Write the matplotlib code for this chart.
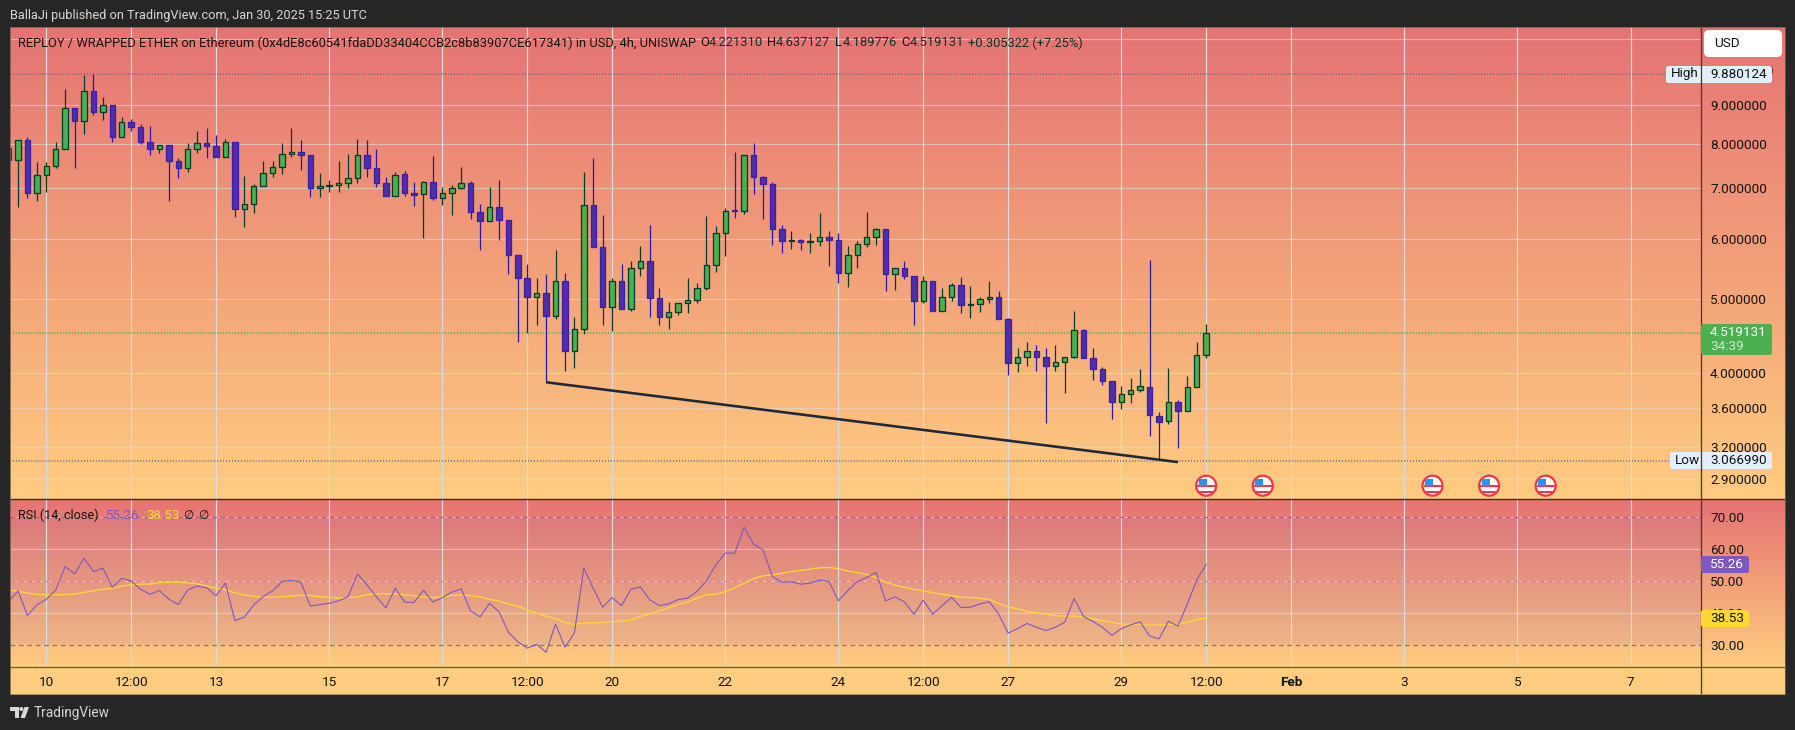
import numpy as np
import matplotlib
matplotlib.use("Agg")
import matplotlib.pyplot as plt
from matplotlib.patches import Rectangle, FancyBboxPatch, Circle, Polygon
from matplotlib.ticker import FixedLocator, FixedFormatter, NullLocator

plt.rcParams["font.family"] = "Roboto"

# ---- data (4h candles, index 0 = Jan 10 00:00) ----
first_index = -4
opens = [7.91,7.63,8.11,6.89,7.29,7.49,7.87,8.91,8.59,9.38,8.81,8.99,8.16,8.54,8.43,8.06,7.87,7.98,7.61,7.43,
 7.89,8.03,7.96,7.70,8.06,6.58,6.68,7.04,7.32,7.47,7.76,7.80,7.75,7.00,7.04,7.06,7.12,7.21,7.75,7.45,
 7.12,6.83,7.30,6.89,6.87,7.14,6.80,6.89,7.01,7.10,6.52,6.34,6.62,6.36,5.71,5.34,5.03,5.10,4.76,5.28,
 4.27,4.57,6.66,5.85,4.89,5.28,4.85,5.50,5.62,5.02,4.74,4.81,4.94,4.99,5.17,5.54,6.12,6.55,6.54,7.75,
 7.25,7.09,6.19,5.97,5.99,5.94,5.96,6.04,5.99,5.42,5.71,5.92,6.03,6.19,5.39,5.49,5.36,4.97,5.28,4.82,
 5.04,5.22,4.92,4.93,5.00,5.03,4.71,4.12,4.20,4.28,4.20,4.08,4.14,4.20,4.56,4.18,4.05,3.90,3.66,3.75,
 3.80,3.84,3.51,3.46,3.66,3.57,3.83,4.2213]
highs = [7.91,8.11,8.18,7.57,7.57,8.06,9.44,8.91,9.85,9.88,9.21,8.99,8.67,8.62,8.49,8.46,7.98,7.98,7.67,8.03,
 8.31,8.41,8.21,8.13,8.06,7.27,7.08,7.61,7.61,8.03,8.41,8.11,7.75,7.32,7.18,7.59,7.77,8.13,8.11,7.89,
 7.25,7.36,7.38,7.14,7.16,7.72,7.03,7.06,7.47,7.16,6.68,7.03,7.18,6.36,5.71,5.57,5.34,5.39,5.81,5.42,
 4.74,7.34,7.66,6.46,5.34,5.57,5.62,5.88,6.27,5.17,4.96,4.94,5.33,5.25,6.44,6.25,6.60,7.82,7.75,8.03,
 7.27,7.14,6.27,6.14,6.01,6.12,6.50,6.15,6.12,5.88,5.96,6.52,6.21,6.19,5.50,5.62,5.37,5.37,5.28,5.18,
 5.25,5.35,5.20,5.03,5.29,5.13,4.73,4.32,4.39,4.36,4.31,4.35,4.20,4.83,4.57,4.31,4.07,3.90,3.85,3.94,
 4.05,5.64,3.55,4.06,3.69,3.97,4.40,4.6371]
lows = [7.63,6.62,6.80,6.74,6.91,7.43,7.87,7.44,8.25,8.74,8.61,8.05,8.16,8.32,8.00,7.74,7.79,6.74,7.22,7.35,
 7.79,7.68,7.70,7.70,6.42,6.23,6.49,7.04,7.25,7.31,7.69,7.40,6.82,6.82,6.92,6.91,7.01,7.12,7.25,7.03,
 6.83,6.83,6.84,6.64,6.02,6.76,6.66,6.46,6.98,6.38,5.81,6.34,5.99,5.40,4.40,4.51,4.62,3.89,4.71,4.03,
 4.06,4.50,5.85,4.62,4.54,4.85,4.83,5.37,4.74,4.62,4.57,4.77,4.80,4.95,5.14,5.43,5.70,6.39,6.47,6.88,
 6.38,5.90,5.76,5.82,5.81,5.75,5.88,5.53,5.26,5.19,5.50,5.86,5.90,5.12,5.15,5.32,4.63,4.95,4.82,4.82,
 4.97,4.80,4.73,4.81,4.95,4.71,3.98,4.01,4.08,4.02,3.44,4.03,3.77,4.19,4.18,3.92,3.86,3.48,3.59,3.65,
 3.78,3.31,3.07,3.43,3.19,3.57,3.83,4.1898]
closes = [7.63,8.11,6.89,7.29,7.49,7.87,8.91,8.59,9.38,8.81,8.99,8.16,8.54,8.43,8.06,7.87,7.98,7.61,7.43,7.89,
 8.03,7.96,7.70,8.06,6.58,6.68,7.04,7.32,7.47,7.77,7.80,7.75,7.00,7.04,7.06,7.12,7.21,7.75,7.45,7.12,
 6.83,7.29,6.89,6.86,7.14,6.80,6.89,7.01,7.10,6.52,6.34,6.62,6.36,5.71,5.34,5.03,5.10,4.76,5.28,4.27,
 4.57,6.66,5.85,4.89,5.28,4.85,5.50,5.62,5.02,4.74,4.81,4.94,4.99,5.17,5.54,6.12,6.54,6.53,7.75,7.25,
 7.09,6.19,5.97,5.99,5.94,5.96,6.04,5.99,5.42,5.71,5.92,6.03,6.19,5.39,5.49,5.36,4.97,5.28,4.82,5.04,
 5.22,4.91,4.93,5.00,5.03,4.71,4.12,4.20,4.28,4.20,4.08,4.14,4.20,4.56,4.18,4.05,3.90,3.66,3.75,3.80,
 3.85,3.52,3.45,3.66,3.57,3.83,4.22,4.5191]
rsi = [43.6,47.0,39.3,42.6,44.4,47.3,54.6,52.3,57.2,53.0,54.1,48.1,50.9,50.1,47.5,45.9,47.1,44.4,42.7,47.3,
 48.5,48.0,45.5,49.4,37.7,38.8,42.6,45.2,47.0,49.9,50.3,49.7,42.3,42.7,43.1,43.9,45.2,52.3,48.9,45.2,
 41.7,47.8,43.5,43.4,47.2,43.5,44.9,46.6,47.6,40.7,38.9,43.1,40.5,34.1,31.1,29.1,30.3,27.8,36.6,29.4,
 33.8,54.1,47.8,41.9,44.9,42.4,47.5,48.2,44.2,42.4,42.9,44.3,44.7,46.8,50.2,55.1,58.8,58.8,66.9,61.6,
 59.8,51.5,49.7,49.8,49.1,49.4,50.4,49.9,43.9,47.1,49.9,51.2,52.8,43.9,45.1,43.6,39.7,44.1,39.7,42.4,
 45.0,41.8,41.9,42.9,43.6,39.7,33.8,35.2,36.8,35.6,34.6,35.6,37.2,44.6,39.0,37.4,35.6,33.1,35.2,36.4,
 37.3,32.9,32.0,37.5,36.0,42.9,50.4,55.26]
rsi_ma = [47.3,46.8,46.3,45.9,45.8,45.8,45.8,46.0,46.5,47.0,47.5,47.8,48.5,48.9,49.1,49.1,49.6,49.7,49.7,49.5,
 49.2,48.5,47.9,47.3,46.4,45.7,45.3,45.0,45.0,45.2,45.3,45.7,45.5,45.2,45.0,44.7,44.9,45.1,45.8,46.1,
 46.1,46.1,45.7,45.5,45.1,44.9,45.1,45.6,45.7,45.5,45.1,44.4,43.8,42.9,42.2,41.0,40.1,39.1,38.3,37.2,
 36.5,37.0,37.0,37.1,37.4,37.5,37.9,39.0,39.8,40.7,41.8,42.8,43.5,44.7,45.8,45.9,46.8,48.0,49.4,50.8,
 51.7,52.0,52.5,53.0,53.4,53.8,54.2,54.3,53.9,53.2,52.7,52.1,51.1,49.7,48.8,48.1,47.5,47.0,46.4,45.9,
 45.5,45.0,44.9,44.7,44.3,43.0,42.0,41.4,40.6,40.1,39.8,39.2,39.1,39.2,38.8,38.3,37.7,37.2,36.6,36.6,
 36.5,36.3,36.3,36.5,36.5,37.2,38.0,38.53]
assert len({len(opens), len(highs), len(lows), len(closes), len(rsi), len(rsi_ma)}) == 1

time_pos = [0, 9, 18, 30, 42, 51, 60, 72, 84, 93, 102, 114, 123, 132, 144, 156, 168]
time_labels = ["10", "12:00", "13", "15", "17", "12:00", "20", "22", "24", "12:00", "27", "29", "12:00", "Feb", "3", "5", "7"]
price_ticks = [11.0, 10.0, 9.0, 8.0, 7.0, 6.0, 5.0, 4.0, 3.6, 3.2, 2.9]
price_labels = ["", "10.000000", "9.000000", "8.000000", "7.000000", "6.000000", "5.000000", "4.000000", "3.600000", "3.200000", "2.900000"]
rsi_ticks = [70, 60, 50, 40, 30]
rsi_labels = ["70.00", "60.00", "50.00", "40.00", "30.00"]
high_price, low_price, last_price = 9.880124, 3.066990, 4.519131
trend_x = [53, 120]
trend_y = [3.89, 3.055]
event_index = [123, 129, 147, 153, 159]

# ---- layout (pixels) ----
W, H = 1795, 730
L, AX, R = 10, 1701, 1785
T, MID, BOT, END = 27, 499, 667, 694
GREEN, GREEN_DK = "#4CAF50", "#003D2B"
PURPLE, PURPLE_ED, PURPLE_WK = "#512DA8", "#3A1FA8", "#2A17A8"
RED_C, ORANGE_C = "#E57373", "#FFCC80"
DARK = "#262626"
GRID = (0.86, 0.86, 0.88, 0.62)
LABEL = "#131313"
px = 0.72
DOT = (0, (0.6, 1.25))

fig = plt.figure(figsize=(W/100, H/100), dpi=100, facecolor=DARK)

def rect_ax(l, t, r, b, z):
    a = fig.add_axes([l/W, 1-b/H, (r-l)/W, (b-t)/H], zorder=z)
    return a

bg = fig.add_axes([0, 0, 1, 1], zorder=0)
bg.set_xlim(0, W); bg.set_ylim(H, 0); bg.axis("off")
cmap = matplotlib.colors.LinearSegmentedColormap.from_list("g", [RED_C, ORANGE_C])
grad = np.linspace(0, 1, 256).reshape(-1, 1)
bg.imshow(grad, cmap=cmap, extent=(L, R, MID, T), aspect="auto", zorder=1)
bg.imshow(grad, cmap=cmap, extent=(L, R, BOT, MID), aspect="auto", zorder=1)
bg.add_patch(Rectangle((L, BOT), R-L, END-BOT, fc=ORANGE_C, ec="none", zorder=1))
bg.set_xlim(0, W); bg.set_ylim(H, 0)

x = np.arange(len(opens)) + first_index
o, h, l, c = map(np.array, (opens, highs, lows, closes))
up = c >= o
xlim = ((L-46.3)/9.43, (AX-46.3)/9.43)

# ---- main pane ----
ax = rect_ax(L, T, AX, MID, 1)
ax.patch.set_alpha(0)
ax.set_yscale("log")
ax.set_xlim(*xlim)
ax.set_ylim(2.732, 11.40)
for s in ax.spines.values():
    s.set_visible(False)
ax.yaxis.tick_right()
ax.yaxis.set_major_locator(FixedLocator(price_ticks))
ax.yaxis.set_major_formatter(FixedFormatter(price_labels))
ax.yaxis.set_minor_locator(NullLocator())
ax.tick_params(axis="y", which="major", length=0, pad=6.5, labelsize=9.7, labelcolor=LABEL)
ax.tick_params(axis="y", which="minor", length=0, labelright=False)
ax.set_xticks(time_pos)
ax.tick_params(axis="x", length=0, labelbottom=False)
ax.grid(True, axis="x", color=GRID, lw=1.2*px, zorder=0)
ax.set_axisbelow(True)
for p in price_ticks:
    if p != 10.0:
        ax.axhline(p, color=GRID, lw=1.2*px, zorder=1)
ax.axhline(high_price, color="#5F6C8A", lw=1.6*px, ls=DOT, zorder=1.5)
ax.axhline(low_price, color="#5F6C8A", lw=1.6*px, ls=DOT, zorder=1.5)
ax.axhline(last_price, color="#22B83A", lw=1.6*px, ls=DOT, zorder=1.5)
ax.vlines(x[up], l[up], h[up], color=GREEN_DK, lw=1.25*px, zorder=2)
ax.vlines(x[~up], l[~up], h[~up], color=PURPLE_WK, lw=1.25*px, zorder=2)
ax.bar(x[up], (c-o)[up], bottom=o[up], width=0.58, color=GREEN, edgecolor=GREEN_DK, lw=1.3*px, zorder=3)
ax.bar(x[~up], (o-c)[~up], bottom=c[~up], width=0.58, color=PURPLE, edgecolor=PURPLE_ED, lw=1.3*px, zorder=3)
ax.plot(trend_x, trend_y, color="#1E2A3C", lw=2.6*px, solid_capstyle="butt", zorder=4)

# ---- RSI pane ----
ax2 = rect_ax(L, MID, AX, BOT, 1)
ax2.patch.set_alpha(0)
ax2.set_xlim(*xlim)
ax2.set_ylim(23.2, 75.72)
for s in ax2.spines.values():
    s.set_visible(False)
ax2.yaxis.tick_right()
ax2.set_yticks(rsi_ticks)
ax2.set_yticklabels(rsi_labels)
ax2.tick_params(axis="y", length=0, pad=6.5, labelsize=9.7, labelcolor=LABEL)
ax2.set_xticks(time_pos)
ax2.set_xticklabels(time_labels)
ax2.tick_params(axis="x", length=0, pad=6.6, labelsize=9.7, labelcolor=LABEL)
for t in ax2.get_xticklabels():
    if t.get_text() == "Feb":
        t.set_fontweight("bold")
ax2.grid(True, axis="x", color=GRID, lw=1.2*px, zorder=0)
ax2.set_axisbelow(True)
ax2.axhspan(30, 70, color="#7E57C2", alpha=0.10, lw=0, zorder=0.5)
for v in rsi_ticks:
    ax2.axhline(v, color=GRID, lw=1.2*px, zorder=1)
for v, a in ((70, 1), (50, 0.5), (30, 1)):
    ax2.axhline(v, color="#787B86", alpha=a, lw=1.2*px, ls=(0, (4, 3)), zorder=1.5)
ax2.plot(x, rsi_ma, color="#FDD835", lw=1.3*px, zorder=3)
ax2.plot(x, rsi, color="#7E57C2", lw=1.1*px, zorder=4)

# ---- chrome overlay, pixel coordinates ----
ov = fig.add_axes([0, 0, 1, 1], zorder=5)
ov.patch.set_alpha(0)
ov.set_xlim(0, W); ov.set_ylim(H, 0); ov.axis("off")
SEP = "#4A3A2A"
ov.plot([AX, AX], [T, END], color=SEP, lw=1.3*px)
ov.plot([L, R], [MID, MID], color="#3A3030", lw=1.4*px)
ov.plot([L, R], [BOT, BOT], color="#6A5A3A", lw=1.3*px)
ov.plot([L, R], [END, END], color="#A89468", lw=1*px)
ov.plot([L, L], [T, END], color="#6E6250", lw=0.8*px)
ov.plot([R, R], [T, END], color="#6E6250", lw=0.8*px)
ov.plot([L, R], [T, T], color="#6E6250", lw=0.8*px)

def T_(xp, yp, s, color=LABEL, size=9.7, ha="left", **kw):
    ov.text(xp, yp, s, color=color, fontsize=size, ha=ha, va="center", **kw)

def box(x0, y0, x1, y1, fc, r=2.5, ec="none", z=2):
    ov.add_patch(FancyBboxPatch((x0+r, y0+r), x1-x0-2*r, y1-y0-2*r,
                                boxstyle=f"round,pad={r},rounding_size={r}", fc=fc, ec=ec, lw=0.6, zorder=z))

T_(10, 16, "BallaJi published on TradingView.com, Jan 30, 2025 15:25 UTC", color="#D6D6D6", size=9.15)
T_(17.5, 43, "REPLOY / WRAPPED ETHER on Ethereum (0x4dE8c60541fdaDD33404CCB2c8b83907CE617341) in USD, 4h, UNISWAP", size=9.26)
VAL = "#06332B"
for xl, xv, s, v in ((700, 709, "O", "4.221310"), (767.5, 776, "H", "4.637127"), (835.5, 842.5, "L", "4.189776"), (901.5, 910, "C", "4.519131")):
    T_(xl, 43, s, size=9.26)
    T_(xv, 43, v, color=VAL, size=9.26)
T_(968, 43, "+0.305322 (+7.25%)", color=VAL, size=9.26)

box(1704, 30, 1782, 57, "white", r=5)
T_(1714, 43.5, "USD", size=9.7)
LBL = "#E3EEFB"
box(1666, 66, 1772, 83, LBL, z=2)
ov.plot([AX, AX], [66, 83], color=SEP, lw=1.3*px, zorder=3)
T_(1671, 74, "High")
T_(1710, 74, "9.880124")
box(1670, 452, 1772, 469, LBL, z=2)
ov.plot([AX, AX], [452, 469], color=SEP, lw=1.3*px, zorder=3)
T_(1675, 460.5, "Low")
T_(1710, 460.5, "3.066990")
box(AX, 324, 1772, 355, GREEN)
T_(1710, 332.8, "4.519131", color="white")
T_(1710, 346.5, "34:39", color="#CDE8CE")
box(AX, 556, 1749, 573, "#7E57C2")
T_(1710, 564.5, "55.26", color="white")
box(AX, 610, 1749, 627, "#FDD835")
T_(1710, 618.5, "38.53")

T_(18, 515.5, "RSI (14, close)", size=9.1)
T_(106, 515.5, "55.26", color="#7E57C2", size=9.5)
T_(146, 515.5, "38.53", color="#FDD835", size=9.5)
T_(183, 515.5, "\u2205", size=8.5, family="DejaVu Sans")
T_(198.5, 515.5, "\u2205", size=8.5, family="DejaVu Sans")

# event flags
FLAG_Y = 485.7
for e in event_index:
    cx = ax.transData.transform((e, 5))[0]
    clip = Circle((cx, FLAG_Y), 9.2, transform=ov.transData)
    ov.add_patch(Circle((cx, FLAG_Y), 10, fc="white", ec="#F23645", lw=1.6, zorder=3))
    for y0, hh, xx, ww in ((-1, 2.6, cx-9, 19), (5.0, 2.2, cx-9, 19)):
        r_ = ov.add_patch(Rectangle((xx, FLAG_Y+y0), ww, hh, fc="#F23645", ec="none", zorder=3.1))
        r_.set_clip_path(clip)
    b_ = ov.add_patch(Rectangle((cx-7.5, FLAG_Y-7), 8.0, 7.6, fc="#2196F3", ec="none", zorder=3.2))
    b_.set_clip_path(clip)

# TradingView logo
ov.add_patch(Polygon([(10, 707), (19, 707), (19, 718), (15, 718), (15, 711), (10, 711)], fc="#D8D8D8", ec="none"))
ov.add_patch(Circle((21.3, 709), 2.0, fc="#D8D8D8", ec="none"))
ov.add_patch(Polygon([(24.5, 707), (29, 707), (25, 718), (20.5, 718)], fc="#D8D8D8", ec="none"))
T_(33.5, 713.5, "TradingView", color="#D6D6D6", size=9.8)

fig.savefig("out.png", dpi=100, facecolor=DARK)
